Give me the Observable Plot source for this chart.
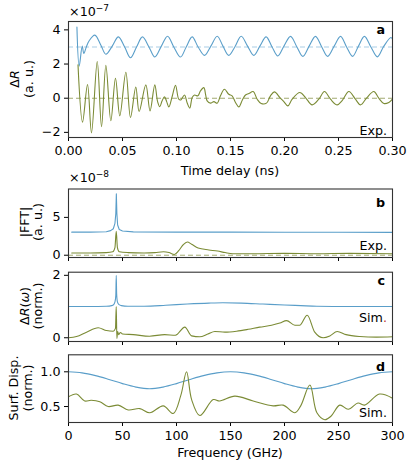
<!DOCTYPE html>
<html><head><meta charset="utf-8">
<script src="https://cdn.jsdelivr.net/npm/d3@7"></script>
<script src="https://cdn.jsdelivr.net/npm/@observablehq/plot@0.6"></script>
<style>
html,body{margin:0;padding:0;background:#fff;}
#fig{position:relative;width:410px;height:469px;overflow:hidden;background:#fff;}
#fig > svg{position:absolute;left:0;}
</style></head><body><div id="fig"></div>
<script>
// ---------- Panel a: time-domain ΔR (×1e-7) ----------
const aBlueT = [0.0078,0.0099,0.0127,0.0142,0.0165,0.0190,0.0244,0.0300,0.0346,0.0405,0.0462,0.0520,0.0574,0.0630,0.0685,0.0745,0.0799,0.0860,0.0917,0.0975,0.1037,0.1090,0.1145,0.1200,0.1259,0.1318,0.1377,0.1430,0.1484,0.1540,0.1599,0.1658,0.1716,0.1772,0.1830,0.1885,0.1938,0.1995,0.2056,0.2115,0.2170,0.2228,0.2287,0.2345,0.2400,0.2460,0.2519,0.2575,0.2630,0.2685,0.2740,0.2800,0.2860,0.2920,0.2985,0.3000];
const aBlueV = [4.16,1.88,3.05,2.62,3.00,3.35,3.69,3.10,2.57,3.05,3.59,3.00,2.37,3.00,3.59,3.00,2.41,3.05,3.63,3.00,2.41,3.00,3.59,3.00,2.51,3.05,3.63,3.05,2.51,3.00,3.63,3.05,2.51,3.05,3.59,3.00,2.47,3.05,3.62,3.00,2.45,3.05,3.62,3.00,2.45,3.05,3.62,3.00,2.45,3.05,3.62,3.00,2.42,3.05,3.55,3.45];
const aGreenT = [0.0088,0.0130,0.0176,0.0213,0.0266,0.0306,0.0346,0.0392,0.0435,0.0475,0.0531,0.0574,0.0623,0.0654,0.0716,0.0755,0.0799,0.0825,0.0845,0.0867,0.0889,0.0909,0.0929,0.0960,0.0991,0.1021,0.1040,0.1074,0.1100,0.1123,0.1145,0.1167,0.1198,0.1222,0.1253,0.1270,0.1284,0.1315,0.1346,0.1377,0.1407,0.1444,0.1484,0.1515,0.1546,0.1577,0.1610,0.1639,0.1670,0.1710,0.1747,0.1784,0.1833,0.1870,0.1907,0.1957,0.1994,0.2031,0.2071,0.2142,0.2194,0.2256,0.2318,0.2370,0.2426,0.2488,0.2534,0.2596,0.2657,0.2704,0.2759,0.2827,0.2873,0.2920,0.2966,0.3000];
const aGreenV = [1.95,-1.40,0.80,-2.03,2.15,-1.67,1.93,-1.32,1.17,-1.03,1.52,-1.13,0.66,-0.78,0.78,-0.74,0.78,-0.20,-0.50,-0.15,0.08,-0.20,-0.51,0.10,0.76,-0.06,-0.10,0.19,-0.30,-0.58,0.04,0.19,0.14,0.43,0.62,0.20,-0.16,-0.29,-0.20,-0.29,0.14,0.52,0.23,0.14,-0.25,-0.51,-0.10,0.19,0.27,0.39,-0.06,-0.31,-0.29,0.14,0.37,0.04,-0.20,-0.45,-0.06,0.33,0.04,-0.39,-0.06,0.39,-0.06,-0.39,-0.14,0.39,-0.06,-0.39,0.00,0.39,0.00,-0.31,-0.25,-0.06];
const aTicksX = [0,0.05,0.10,0.15,0.20,0.25,0.30];
const aTicksY = [-2,0,2,4];

// ---------- Panel b: |FFT| (×1e-8) ----------
const bBlueF = [3,20,35,39,41.5,43,43.8,44.3,44.8,45.5,47,50,60,100,150,200,250,300];
const bBlueV = [3.05,3.05,3.10,3.25,3.50,4.20,5.50,8.10,5.50,4.00,3.40,3.20,3.08,3.05,3.05,3.04,3.03,3.02];
const bGreenF = [3,20,35,41,43,44.2,45.3,47,55,70,80,88,93,98,102,106,110,114,120,130,138,145,152,170,200,230,260,300];
const bGreenV = [0.30,0.30,0.35,0.45,1.00,3.15,1.00,0.45,0.35,0.30,0.35,0.45,0.35,0.10,0.60,1.35,1.75,1.45,0.95,0.70,0.55,0.35,0.20,0.20,0.25,0.20,0.25,0.20];
const bTicksY = [0,5];

// ---------- Panel c: simulated ΔR(ω) (norm.) ----------
const cBlueF = [0,20,35,40,42,43,43.8,44.2,44.6,45.3,46.5,49,55,70,90,110,130,143,160,180,200,215,230,260,300];
const cBlueV = [1.00,1.00,1.01,1.03,1.07,1.15,1.35,2.00,1.40,1.15,1.07,1.03,1.01,1.01,1.04,1.08,1.11,1.12,1.11,1.08,1.05,1.03,1.01,1.00,1.00];
const cGreenF = [0,7.4,16.7,27.5,35.2,41.4,43.5,44.2,44.8,45.5,46.5,48,50,60,75,89,99,107.7,114,121.6,129,135.5,144.8,155.6,166.4,177,188,195.7,201.9,209.6,214,221,228,235.8,242,248.8,257,269.7,285,300];
const cGreenV = [0.00,0.04,0.18,0.32,0.23,0.21,0.30,1.00,-0.02,0.20,0.10,0.17,0.12,0.10,0.05,0.10,0.08,0.34,0.06,0.03,0.12,0.20,0.18,0.21,0.27,0.34,0.40,0.47,0.55,0.40,0.40,0.72,0.18,0.00,0.06,0.20,0.10,0.04,0.02,0.03];
const cTicksY = [0,2];

// ---------- Panel d: simulated surface displacement (norm.) ----------
const dBlueF = [0,12.5,25,37.5,50,62.5,75,87.5,100,112.5,125,137.5,150,162.5,175,187.5,200,212.5,225,237.5,250,262.5,275,287.5,300];
const dBlueV = [1.00,0.985,0.945,0.89,0.83,0.78,0.755,0.78,0.83,0.89,0.945,0.985,1.00,0.985,0.945,0.89,0.83,0.78,0.755,0.78,0.83,0.89,0.945,0.985,1.00];
const dGreenF = [0,7.4,15,21,29,36.7,46,55.3,66,75.3,87.7,97,104,109.3,114,121.6,134,140,154,171,189.5,198.8,209.6,215,223.5,230,237.3,243,251.2,259,268,274,288,300];
const dGreenV = [0.64,0.68,0.58,0.59,0.57,0.50,0.52,0.45,0.47,0.41,0.51,0.40,0.66,1.00,0.60,0.37,0.60,0.58,0.65,0.58,0.51,0.52,0.41,0.51,0.81,0.41,0.31,0.36,0.52,0.46,0.55,0.52,0.68,0.62];
const dTicksY = [0.5,1.0];

const fTicks = [0,50,100,150,200,250,300];

// ---------- styling ----------
const FONT = "DejaVu Sans";
const FS = 12.7;
const BLUE = "#5a9ec9", GREEN = "#7b8b35", BLUE_D = "#a9cde6", GREEN_D = "#a3ab72";
const fig = document.getElementById("fig");

function panel({top, height, mt, mb, x, y, marks}) {
  const p = Plot.plot({
    width: 410, height,
    marginLeft: 68, marginRight: 18, marginTop: mt, marginBottom: mb,
    x: {tickSize: 4, tickPadding: 4, label: null, ...x},
    y: {tickSize: 4, tickPadding: 4, label: null, ...y},
    style: {fontFamily: FONT, fontSize: FS + "px", color: "#000", background: "transparent", overflow: "visible"},
    marks: [...marks, Plot.frame({stroke: "#333", strokeWidth: 1.1})]
  });
  p.style.top = top + "px";
  fig.appendChild(p);
}
const line = (X, Y, stroke, curve = "catmull-rom") =>
  Plot.line(X, {x: X, y: Y, stroke, strokeWidth: 1.1, curve});
const noLabels = () => "";
const intFmt = d3.format("d");

// panel a
panel({top: 0, height: 180, mt: 21, mb: 43,
  x: {domain: [0, 0.3], ticks: aTicksX, tickFormat: d3.format(".2f")},
  y: {domain: [-2.3, 4.49], ticks: aTicksY, tickFormat: intFmt},
  marks: [
    Plot.ruleY([3], {stroke: BLUE_D, strokeWidth: 1.1, strokeDasharray: "5,3"}),
    Plot.ruleY([0], {stroke: GREEN_D, strokeWidth: 1.1, strokeDasharray: "5,3"}),
    line(aBlueT, aBlueV, BLUE),
    line(aGreenT, aGreenV, GREEN)
  ]});

// panel b
panel({top: 175, height: 87, mt: 13.5, mb: 5,
  x: {domain: [0, 300], ticks: fTicks, tickFormat: noLabels},
  y: {domain: [-0.3, 8.75], ticks: bTicksY, tickFormat: intFmt},
  marks: [
    Plot.ruleY([0], {stroke: GREEN_D, strokeWidth: 1, strokeDasharray: "5,3"}),
    line(bBlueF, bBlueV, BLUE, "linear"),
    line(bGreenF, bGreenV, GREEN, "monotone-x")
  ]});

// panel c
panel({top: 262, height: 84, mt: 9.7, mb: 5,
  x: {domain: [0, 300], ticks: fTicks, tickFormat: noLabels},
  y: {domain: [-0.12, 2.1], ticks: cTicksY, tickFormat: intFmt},
  marks: [
    line(cBlueF, cBlueV, BLUE, "monotone-x"),
    line(cGreenF, cGreenV, GREEN, "monotone-x")
  ]});

// panel d
panel({top: 346, height: 123, mt: 8.3, mb: 47,
  x: {domain: [0, 300], ticks: fTicks, tickFormat: intFmt},
  y: {domain: [0.27, 1.245], ticks: dTicksY, tickFormat: d3.format(".1f")},
  marks: [
    line(dBlueF, dBlueV, BLUE),
    line(dGreenF, dGreenV, GREEN)
  ]});

// ---------- annotation overlay (text) ----------
const ov = d3.create("svg").attr("width", 410).attr("height", 469)
  .style("top", "0px").style("pointer-events", "none")
  .attr("font-family", FONT).attr("font-size", FS).attr("fill", "#000");

function txt(x, y, s, anchor = "start", weight = "normal") {
  return ov.append("text").attr("x", x).attr("y", y).attr("text-anchor", anchor).attr("font-weight", weight).text(s);
}
function expo(x, y, e) {
  const t = ov.append("text").attr("x", x).attr("y", y);
  t.append("tspan").text("×10");
  t.append("tspan").attr("dy", -5).attr("font-size", 9).text(e);
}
expo(69, 16, "−7");
expo(69, 182, "−8");

txt(385, 34, "a", "end", "bold");
txt(385, 207, "b", "end", "bold");
txt(385, 285, "c", "end", "bold");
txt(385, 371, "d", "end", "bold");

txt(387, 135, "Exp.", "end");
txt(387, 250, "Exp.", "end");
{
  const t = ov.append("text").attr("x", 387).attr("y", 322).attr("text-anchor", "end");
  t.append("tspan").text("Sim");
  t.append("tspan").attr("fill", "#c0392b").text(".");
}
txt(387, 417, "Sim.", "end");

txt(230, 175, "Time delay (ns)", "middle");
txt(230, 457, "Frequency (GHz)", "middle");

function ylab(x1, x2, cy, parts1, line2) {
  const t1 = ov.append("text").attr("transform", `translate(${x1},${cy}) rotate(-90)`).attr("text-anchor", "middle");
  for (const [s, it] of parts1) t1.append("tspan").attr("font-style", it ? "italic" : "normal").text(s);
  ov.append("text").attr("transform", `translate(${x2},${cy}) rotate(-90)`).attr("text-anchor", "middle").text(line2);
}
ylab(19, 33, 79, [["Δ", false], ["R", true]], "(a. u.)");
ylab(29, 42, 222, [["|FFT|", false]], "(a. u.)");
ylab(29, 42, 306, [["Δ", false], ["R", true], ["(", false], ["ω", true], [")", false]], "(norm.)");
ylab(18, 32, 388, [["Surf. Disp.", false]], "(norm.)");

fig.appendChild(ov.node());
</script></body></html>
